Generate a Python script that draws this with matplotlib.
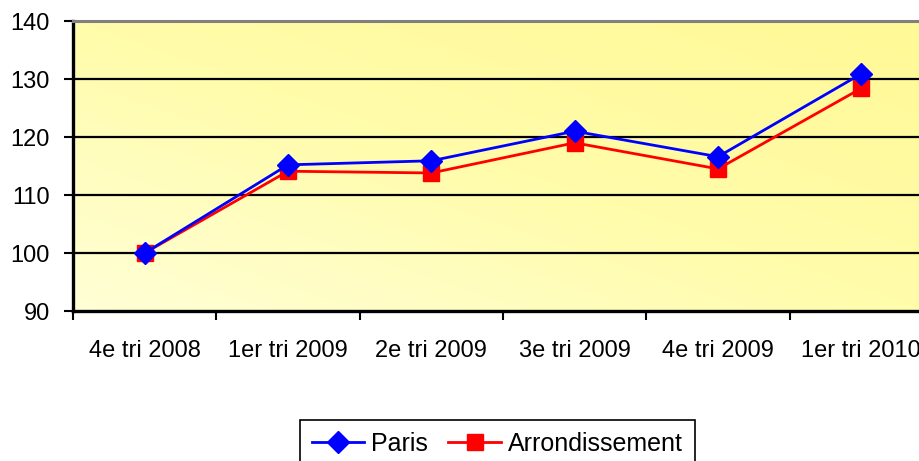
import numpy as np
import matplotlib
matplotlib.use('Agg')
import matplotlib.pyplot as plt
from matplotlib.colors import LinearSegmentedColormap

plt.rcParams['font.family'] = ['Liberation Sans', 'DejaVu Sans']

quarters = ['4e tri 2008', '1er tri 2009', '2e tri 2009', '3e tri 2009', '4e tri 2009', '1er tri 2010']
paris = [100.0, 115.2, 115.9, 121.0, 116.6, 130.9]
arrondissement = [100.0, 114.1, 113.8, 119.0, 114.5, 128.4]

fig = plt.figure(figsize=(9.2, 4.61), dpi=100)
ax = fig.add_axes([73 / 920, 1 - 311 / 461, 860 / 920, 290 / 461])

# diagonal yellow gradient behind the plot
yy, xx = np.mgrid[0:1:200j, 0:1:200j]
grad = (xx + yy) / 2
cmap = LinearSegmentedColormap.from_list('bg', ['#FFFFD6', '#FFFCAA', '#FFF996'])
ax.imshow(grad, cmap=cmap, origin='lower', extent=(-0.5, 5.5, 90, 140),
          aspect='auto', zorder=0, interpolation='bilinear')

x = np.arange(len(quarters))
ax.plot(x, paris, color='#0000FF', lw=2, marker='D', ms=11, label='Paris', zorder=4)
ax.plot(x, arrondissement, color='#FF0000', lw=2, marker='s', ms=11.5,
        label='Arrondissement', zorder=3)

ax.set_xlim(-0.5, 5.5)
ax.set_ylim(90, 140)
ax.set_yticks(range(90, 141, 10))
for v in range(100, 141, 10):
    ax.axhline(v, color='black', lw=1.6, zorder=1)

ax.set_xticks(np.arange(-0.5, 5.6, 1))
ax.set_xticklabels([])
ax.set_xticks(x, minor=True)
ax.set_xticklabels(quarters, minor=True)
ax.tick_params(axis='x', which='minor', length=0, pad=21, labelsize=17)
ax.tick_params(axis='x', which='major', length=6.5, width=1.5, direction='out')
ax.tick_params(axis='y', length=6.5, width=1.5, direction='out', labelsize=17, pad=10)

for s in ['left', 'bottom']:
    ax.spines[s].set_linewidth(2.4)
    ax.spines[s].set_color('black')
ax.spines['top'].set_color('#808080')
ax.spines['top'].set_linewidth(2.2)
ax.spines['right'].set_visible(False)

leg = fig.legend(loc='upper left', bbox_to_anchor=(300 / 920, 1 - 420 / 461),
                 ncol=2, fontsize=18, frameon=True, fancybox=False,
                 edgecolor='black', framealpha=1, handlelength=2.1,
                 columnspacing=0.8, borderpad=0.48, handletextpad=0.28,
                 borderaxespad=0)
leg.get_frame().set_linewidth(1.2)

fig.savefig('out.png', dpi=100)
